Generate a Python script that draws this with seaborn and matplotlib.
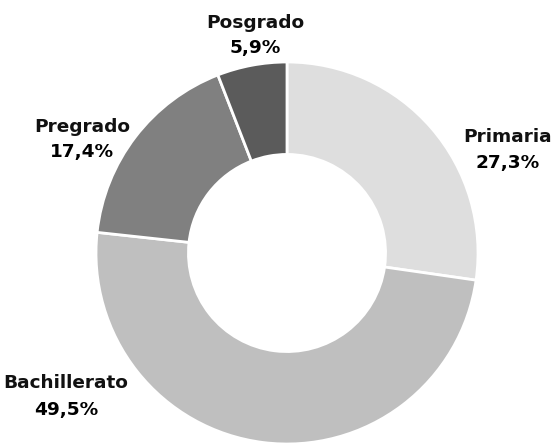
import matplotlib
matplotlib.use("Agg")
import matplotlib.pyplot as plt
import seaborn as sns

categories = ["Primaria", "Bachillerato", "Pregrado", "Posgrado"]
values = [27.3, 49.5, 17.4, 5.9]
value_labels = ["27,3%", "49,5%", "17,4%", "5,9%"]
colors = ["#dedede", "#bfbfbf", "#808080", "#5b5b5b"]

sns.set_theme(style="white")
plt.rcParams['font.family'] = ['DejaVu Sans']

W, H = 556, 445
fig = plt.figure(figsize=(W / 100, H / 100), dpi=100)
cx, cy, r = 287, 253, 191
ax = fig.add_axes([(cx - r) / W, (H - cy - r) / H, 2 * r / W, 2 * r / H])
palette = sns.color_palette(colors)
ax.pie(values, colors=palette, startangle=90, counterclock=False, radius=1,
       wedgeprops=dict(width=0.484, edgecolor="white", linewidth=2))
ax.set_xlim(-1, 1)
ax.set_ylim(-1, 1)
ax.set_aspect("equal")
ax.axis("off")

# label positions in pixels (center x, name baseline y, value baseline y)
label_pos = {
    "Primaria": (508, 142, 168),
    "Bachillerato": (66, 388, 415),
    "Pregrado": (82, 132, 157),
    "Posgrado": (255, 28, 53),
}
for cat, vl in zip(categories, value_labels):
    x, y1, y2 = label_pos[cat]
    fig.text(x / W, 1 - y1 / H, cat, ha="center", va="baseline",
             fontsize=13.3, fontweight="bold", color="#111111")
    fig.text(x / W, 1 - y2 / H, vl, ha="center", va="baseline",
             fontsize=13.3, fontweight="bold", color="#000000")

fig.savefig("out.png", dpi=100)
